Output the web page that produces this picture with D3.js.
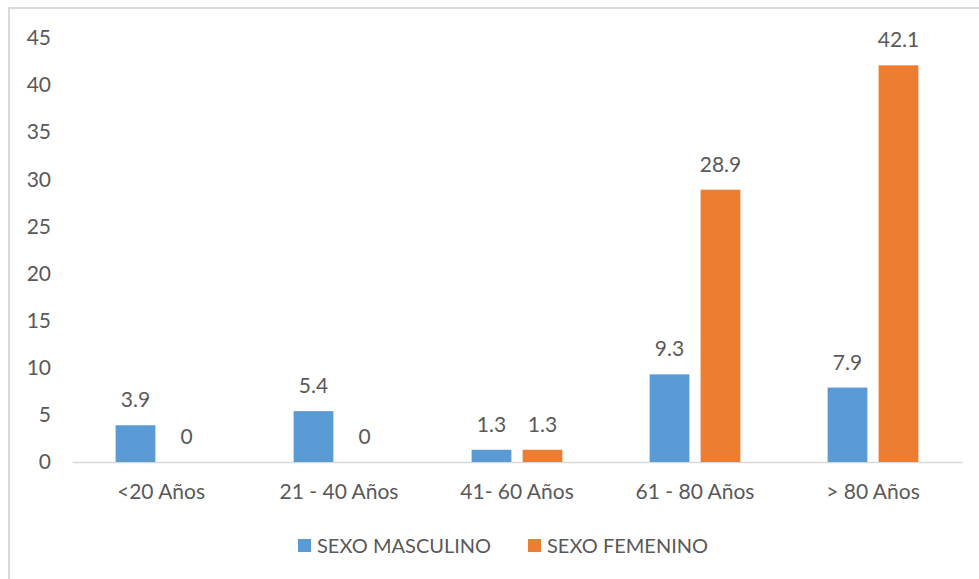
<!DOCTYPE html>
<html>
<head>
<meta charset="utf-8">
<script src="https://cdn.jsdelivr.net/npm/d3@7"></script>
<style>
  body { margin: 0; background: #fff; }
  text { font-family: Lato, "Open Sans", sans-serif; fill: #595959; }
</style>
</head>
<body>
<div id="chart"></div>
<script>
var categories = ["<20 Años", "21 - 40 Años", "41- 60 Años", "61 - 80 Años", "> 80 Años"];
var seriesNames = ["SEXO MASCULINO", "SEXO FEMENINO"];
var masculino = [3.9, 5.4, 1.3, 9.3, 7.9];
var femenino = [0, 0, 1.3, 28.9, 42.1];
var yTicks = [0, 5, 10, 15, 20, 25, 30, 35, 40, 45];
var colors = ["#5B9BD5", "#ED7D31"];

var width = 979, height = 579;
var margin = {top: 38, right: 17, bottom: 117, left: 72};

var svg = d3.select("#chart").append("svg")
  .attr("width", width)
  .attr("height", height);

// chart border (only top/left visible in the picture)
svg.append("rect")
  .attr("x", 9).attr("y", 8)
  .attr("width", 1000).attr("height", 600)
  .attr("fill", "none")
  .attr("stroke", "#d9d9d9")
  .attr("stroke-width", 2);

var innerW = width - margin.left - margin.right;
var innerH = height - margin.top - margin.bottom;

var g = svg.append("g").attr("transform", "translate(" + margin.left + "," + margin.top + ")");

var x0 = d3.scaleBand().domain(categories).range([0, innerW])
  .paddingInner(0.49).paddingOuter(0.245);
var x1 = d3.scaleBand().domain(seriesNames).range([0, x0.bandwidth()])
  .paddingInner(0.22);
var y = d3.scaleLinear().domain([0, 45]).range([innerH, 0]);

var rows = categories.map(function(c, i) {
  return {cat: c, values: [
    {name: seriesNames[0], value: masculino[i]},
    {name: seriesNames[1], value: femenino[i]}
  ]};
});

// y axis labels
var yAxis = g.append("g")
  .call(d3.axisLeft(y).tickValues(yTicks).tickSize(0).tickPadding(21));
yAxis.select(".domain").remove();
yAxis.selectAll("text")
  .style("font-size", "21px")
  .attr("fill", "#595959");

// x axis
var xAxis = g.append("g")
  .attr("transform", "translate(0," + innerH + ")")
  .call(d3.axisBottom(x0).tickSize(0).tickPadding(22));
xAxis.select(".domain").attr("stroke", "#d9d9d9").attr("stroke-width", 1.5);
xAxis.selectAll("text")
  .style("font-size", "21px")
  .attr("fill", "#595959");

var group = g.selectAll(".grp")
  .data(rows)
  .enter().append("g")
  .attr("class", "grp")
  .attr("transform", function(d) { return "translate(" + x0(d.cat) + ",0)"; });

group.selectAll("rect")
  .data(function(d) { return d.values; })
  .enter().append("rect")
  .attr("x", function(d) { return x1(d.name); })
  .attr("y", function(d) { return y(d.value); })
  .attr("width", x1.bandwidth())
  .attr("height", function(d) { return innerH - y(d.value); })
  .attr("fill", function(d, i) { return colors[i]; });

group.selectAll(".lbl")
  .data(function(d) { return d.values; })
  .enter().append("text")
  .attr("class", "lbl")
  .attr("x", function(d) { return x1(d.name) + x1.bandwidth() / 2; })
  .attr("y", function(d) { return y(d.value) - 18; })
  .attr("text-anchor", "middle")
  .style("font-size", "21px")
  .text(function(d) { return d.value; });

// legend
var legend = svg.append("g").attr("transform", "translate(0,546)");
var legX = [298, 528];
seriesNames.forEach(function(s, i) {
  legend.append("rect")
    .attr("x", legX[i]).attr("y", -7)
    .attr("width", 13).attr("height", 13)
    .attr("fill", colors[i]);
  legend.append("text")
    .attr("x", legX[i] + 19).attr("y", 0)
    .attr("dy", "0.35em")
    .style("font-size", "20px")
    .text(s);
});
</script>
</body>
</html>
